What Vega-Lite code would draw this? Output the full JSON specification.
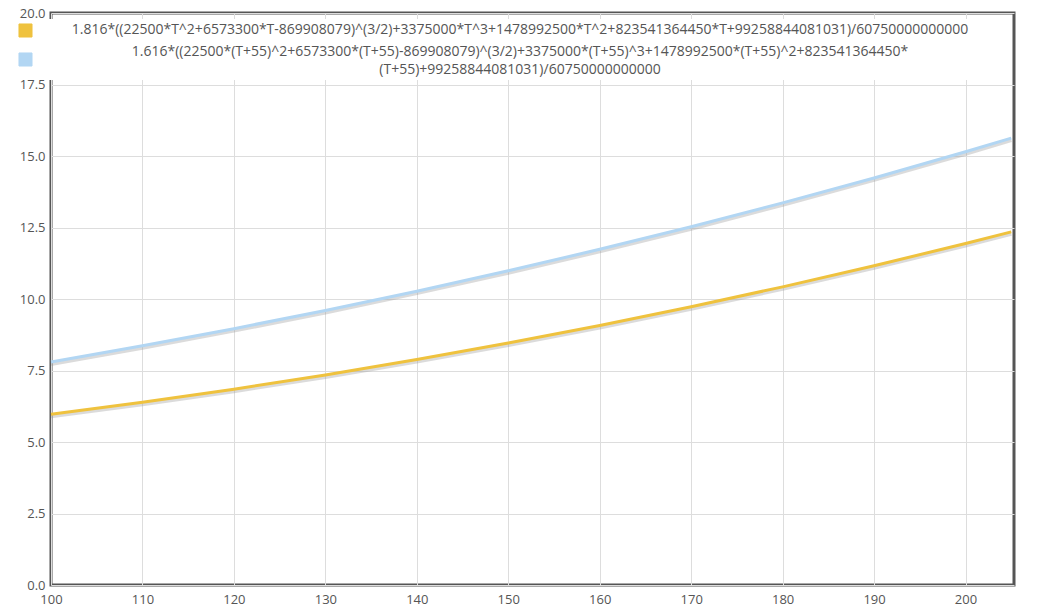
{
  "$schema": "https://vega.github.io/schema/vega-lite/v6.json",
  "width": 963,
  "height": 572,
  "autosize": "none",
  "padding": {"left": 51, "top": 13, "right": 33, "bottom": 29},
  "background": "white",
  "config": {
    "view": {"stroke": "#555555", "strokeWidth": 3},
    "font": "Open Sans",
    "axis": {"labelFont": "Open Sans", "labelFontSize": 13, "labelColor": "#555555", "gridColor": "#dddddd", "gridWidth": 1, "ticks": false, "domain": false, "title": null}
  },
  "data": {
    "values": [
      {"T": 100, "s": "A", "v": 5.9733}, {"T": 110, "s": "A", "v": 6.3864}, {"T": 120, "s": "A", "v": 6.8455},
      {"T": 130, "s": "A", "v": 7.3447}, {"T": 140, "s": "A", "v": 7.8827}, {"T": 150, "s": "A", "v": 8.4592},
      {"T": 160, "s": "A", "v": 9.0747}, {"T": 170, "s": "A", "v": 9.7298}, {"T": 180, "s": "A", "v": 10.4251},
      {"T": 190, "s": "A", "v": 11.1617}, {"T": 200, "s": "A", "v": 11.9405}, {"T": 205, "s": "A", "v": 12.346},
      {"T": 100, "s": "B", "v": 7.7971}, {"T": 110, "s": "B", "v": 8.3623}, {"T": 120, "s": "B", "v": 8.9631},
      {"T": 130, "s": "B", "v": 9.6001}, {"T": 140, "s": "B", "v": 10.2742}, {"T": 150, "s": "B", "v": 10.9863},
      {"T": 160, "s": "B", "v": 11.7372}, {"T": 170, "s": "B", "v": 12.528}, {"T": 180, "s": "B", "v": 13.3597},
      {"T": 190, "s": "B", "v": 14.233}, {"T": 200, "s": "B", "v": 15.1492}, {"T": 205, "s": "B", "v": 15.6237}
    ]
  },
  "encoding": {
    "x": {"field": "T", "type": "quantitative", "scale": {"domain": [100, 205.3], "nice": false, "zero": false},
      "axis": {"values": [100, 110, 120, 130, 140, 150, 160, 170, 180, 190, 200], "labelPadding": 8, "labelFlush": false}},
    "y": {"field": "v", "type": "quantitative", "scale": {"domain": [0, 20], "nice": false},
      "axis": {"values": [0, 2.5, 5, 7.5, 10, 12.5, 15, 17.5, 20], "format": ".1f", "labelPadding": 6}}
  },
  "layer": [
    {
      "mark": {"type": "line", "interpolate": "monotone", "strokeWidth": 4, "color": "#999999", "opacity": 0.35, "yOffset": 2},
      "encoding": {"detail": {"field": "s"}}
    },
    {
      "mark": {"type": "line", "interpolate": "monotone", "strokeWidth": 3},
      "encoding": {
        "color": {"field": "s", "type": "nominal",
          "scale": {"domain": ["A", "B"], "range": ["#efc23e", "#b2d6f3"]},
          "legend": {
            "title": null, "orient": "none", "legendX": -36, "legendY": 6,
            "fillColor": "white", "padding": 3,
            "symbolType": "square", "symbolSize": 170, "symbolStrokeColor": "#cccccc", "symbolStrokeWidth": 1, "symbolOpacity": 1,
            "labelFont": "Open Sans", "labelFontSize": 14, "labelColor": "#555555", "labelLimit": 1200, "labelAlign": "center",
            "rowPadding": 4, "labelOffset": 487,
            "encode": {
              "symbols": {"update": {"fill": {"scale": "color", "field": "value"}, "stroke": {"value": "#cccccc"}, "strokeWidth": {"value": 1}, "y": {"signal": "datum.index == 1 ? 15.5 : 8.5"}}},
              "labels": {"update": {"lineHeight": {"value": 18}}}
            },
            "labelExpr": "datum.label == 'A' ? '1.816*((22500*T^2+6573300*T-869908079)^(3/2)+3375000*T^3+1478992500*T^2+823541364450*T+99258844081031)/60750000000000' : ['1.616*((22500*(T+55)^2+6573300*(T+55)-869908079)^(3/2)+3375000*(T+55)^3+1478992500*(T+55)^2+823541364450*', '(T+55)+99258844081031)/60750000000000']"
          }
        }
      }
    }
  ]
}
